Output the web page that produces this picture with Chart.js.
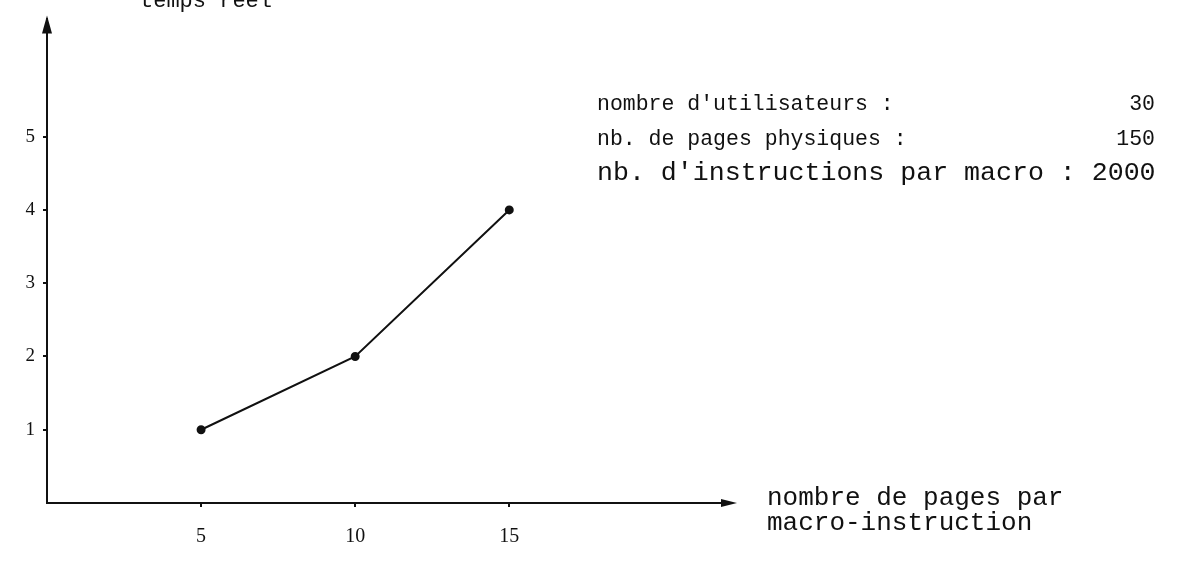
<!DOCTYPE html>
<html>
<head>
<meta charset="utf-8">
<script src="https://cdn.jsdelivr.net/npm/chart.js@4"></script>
<style>
  html, body { margin: 0; padding: 0; background: #fff; }
  #wrap { width: 1177px; height: 561px; }
</style>
</head>
<body>
<div id="wrap"><canvas id="chart"></canvas></div>
<script>
// data
const pagesPerMacro = [5, 10, 15];
const tempsReel = [1, 2, 4];
const xTicks = [5, 10, 15];
const yTicks = [1, 2, 3, 4, 5];
const params = [
  ["nombre d'utilisateurs :", "30"],
  ["nb. de pages physiques :", "150"],
  ["nb. d'instructions par macro :", "2000"]
];

const ink = '#111';
const serif = '"Liberation Serif", serif';
const mono = '"Liberation Mono", monospace';

// arrows, axis titles and the parameter block
const decorations = {
  id: 'decorations',
  afterDraw(chart) {
    const { ctx, chartArea: a } = chart;
    ctx.save();
    ctx.fillStyle = ink;
    ctx.strokeStyle = ink;
    // y arrow
    ctx.beginPath();
    ctx.moveTo(a.left, a.top - 4);
    ctx.lineTo(a.left - 5, a.top + 14);
    ctx.lineTo(a.left + 5, a.top + 14);
    ctx.closePath();
    ctx.fill();
    // x arrow
    ctx.lineWidth = 2;
    ctx.beginPath();
    ctx.moveTo(a.right, a.bottom);
    ctx.lineTo(a.right + 8, a.bottom);
    ctx.stroke();
    ctx.beginPath();
    ctx.moveTo(a.right + 12, a.bottom);
    ctx.lineTo(a.right - 4, a.bottom - 4);
    ctx.lineTo(a.right - 4, a.bottom + 4);
    ctx.closePath();
    ctx.fill();

    ctx.textBaseline = 'alphabetic';
    ctx.textAlign = 'left';

    // y axis title (cut at the top edge)
    ctx.font = '22px ' + mono;
    ctx.fillText('temps réel', 140, 7);

    // x axis title
    ctx.font = '26px ' + mono;
    ctx.fillText('nombre de pages par', 767, a.bottom + 2);
    ctx.fillText('macro-instruction', 767, a.bottom + 27);

    // parameters
    params.forEach((p, i) => {
      const y = 110 + i * 35;
      if (i < 2) {
        ctx.font = '21.5px ' + mono;
        ctx.textAlign = 'left';
        ctx.fillText(p[0], 597, y);
        ctx.textAlign = 'right';
        ctx.fillText(p[1], 1155, y);
      } else {
        ctx.font = '26.6px ' + mono;
        ctx.textAlign = 'left';
        ctx.fillText(p[0] + ' ' + p[1], 597, y);
      }
    });
    ctx.restore();
  }
};

new Chart(document.getElementById('chart'), {
  type: 'line',
  data: {
    datasets: [{
      data: pagesPerMacro.map((x, i) => ({ x, y: tempsReel[i] })),
      borderColor: ink,
      borderWidth: 2,
      backgroundColor: ink,
      pointRadius: 3.5,
      pointHoverRadius: 3.5,
      tension: 0
    }]
  },
  options: {
    responsive: true,
    maintainAspectRatio: false,
    animation: false,
    events: [],
    layout: { padding: { top: 8, right: 452, bottom: 0, left: 0 } },
    plugins: { legend: { display: false }, tooltip: { enabled: false } },
    scales: {
      x: {
        type: 'linear',
        min: 0,
        max: 22,
        afterBuildTicks: s => { s.ticks = xTicks.map(v => ({ value: v })); },
        afterFit: s => { s.height = 58; },
        grid: { drawOnChartArea: false, tickLength: 4, color: ink, lineWidth: 2 },
        border: { display: true, color: ink, width: 2 },
        ticks: { color: ink, padding: 18, font: { family: serif, size: 20 } }
      },
      y: {
        min: 0,
        max: 6.6,
        afterBuildTicks: s => { s.ticks = yTicks.map(v => ({ value: v })); },
        afterFit: s => { s.width = 47; },
        grid: { drawOnChartArea: false, tickLength: 4, color: ink, lineWidth: 2 },
        border: { display: true, color: ink, width: 2 },
        ticks: { color: ink, padding: 8, font: { family: serif, size: 19 } }
      }
    }
  },
  plugins: [decorations]
});
</script>
</body>
</html>
